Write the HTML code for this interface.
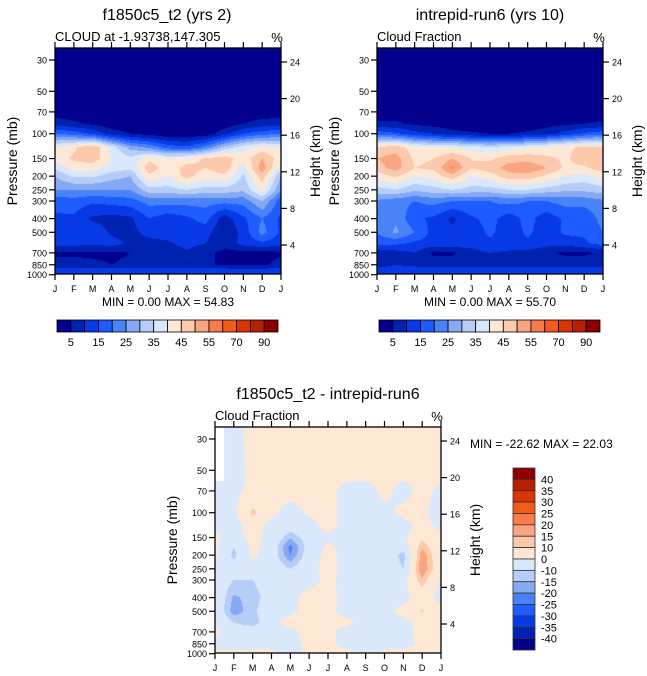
<!DOCTYPE html>
<html><head><meta charset="utf-8">
<style>
body{margin:0;background:#fff;}
#wrap{position:relative;width:647px;height:676px;overflow:hidden;background:#fff;font-family:"Liberation Sans",sans-serif;}
canvas{position:absolute;}
svg{position:absolute;left:0;top:0;}
</style></head>
<body>
<div id="wrap">
<canvas id="c1" width="226" height="226" style="left:55px;top:48px"></canvas>
<canvas id="c2" width="226" height="226" style="left:377px;top:48px"></canvas>
<canvas id="c3" width="226" height="226" style="left:215px;top:427px"></canvas>
<svg id="ov" width="647" height="676"></svg>
</div>
<script>
const months=['J','F','M','A','M','J','J','A','S','O','N','D','J'];
const pTicks=[30,50,70,100,150,200,250,300,400,500,700,850,1000];
const hTicks=[4,8,12,16,20,24];
const absLevels=[5,10,15,20,25,30,35,40,45,50,55,60,70,80,90];
const absLabels=[5,15,25,35,45,55,70,90];
const difLevels=[-40,-35,-30,-25,-20,-15,-10,0,10,15,20,25,30,35,40];
const difLabels=[40,35,30,25,20,15,10,0,-10,-15,-20,-25,-30,-35,-40];
const colors=['#03008d','#0022b0','#0839e6','#1e5cff','#4a82f7','#86a9f5','#b6cdf8','#d9e8fb','#fde8d6','#fcc9ad','#f9a57f','#f97b4b','#f55a1d','#db3506','#b82003','#8c0000'];
const P12=[25,30,50,70,85,100,125,150,175,200,250,300,400,500,600,700,850,925,1000];
const cloudModel=[
[1,1,1,1,1,1,1,1,1,1,1,1,1],
[1,1,1,1,1,1,1,1,1,1,1,1,1],
[1,1,1,1,1,1,1,1,1,1,1,1,1],
[2,2,2,1,1,1,1,1,1,1,2,2,2],
[8,6,4,2,1,1,1,1,1,2,5,7,8],
[20,18,14,8,5,3,1,1,2,8,15,18,20],
[40,44,50,38,28,24,18,16,22,32,38,42,40],
[42,46,48,40,36,44,40,42,46,48,42,50,42],
[36,42,42,38,36,48,42,47,45,48,38,53,38],
[30,36,36,32,30,44,40,47,42,44,34,48,30],
[25,25,25,25,25,33,33,35,33,33,31,42,25],
[17,18,16,17,18,22,22,22,22,22,22,30,17],
[14,14,9,8,9,15,12,14,17,7,14,20,14],
[14,12,14,9,8,12,13,13,12,5,12,22,14],
[12,12,11,12,9,8,9,12,10,6,12,14,12],
[4,4,4,4,5,8,7,9,6,4,3,3,4],
[7,7,6,5,6,6,5,5,5,5,4,4,7],
[12,12,12,12,12,12,12,12,12,12,12,12,12],
[10,10,10,10,10,10,10,10,10,10,10,10,10]];
const cloudObs=[
[1,1,1,1,1,1,1,1,1,1,1,1,1],
[1,1,1,1,1,1,1,1,1,1,1,1,1],
[1,1,1,1,1,1,1,1,1,1,1,1,1],
[2,2,1,1,1,1,1,1,1,1,1,2,2],
[6,6,4,3,2,1,1,2,2,3,4,5,6],
[18,16,12,10,7,6,5,5,6,8,12,16,18],
[46,48,42,40,40,38,36,38,40,42,44,46,46],
[50,52,44,45,50,45,44,48,48,46,44,48,50],
[48,52,45,46,56,45,48,52,54,50,44,44,48],
[42,46,40,42,48,40,42,48,48,44,40,38,42],
[33,35,31,33,35,33,33,35,35,33,31,31,33],
[24,22,20,22,20,20,20,22,20,20,22,22,24],
[22,24,16,14,9,14,17,12,17,12,16,16,22],
[20,26,20,13,11,12,16,12,16,12,16,16,20],
[17,16,14,13,14,12,14,13,14,12,12,14,17],
[6,8,10,4,4,8,10,9,8,6,4,4,6],
[8,10,9,8,8,8,8,8,8,8,8,8,8],
[12,12,12,12,12,12,12,12,12,12,12,12,12],
[10,10,10,10,10,10,10,10,10,10,10,10,10]];
const P3=[25,30,50,70,100,125,150,175,200,250,300,400,500,600,700,850,1000];
const cloudDiff=[
[null,-3,3,3,3,3,3,3,3,3,3,3,3],
[null,-3,3,3,3,3,3,3,3,3,3,3,3],
[null,-3,2,3,3,3,2,3,3,3,3,3,2],
[-3,-2,2,3,3,3,2,-2,-3,2,-3,3,-2],
[-6,-2,12,2,-3,1,3,-3,-3,-2,2,3,-6],
[-2,-3,4,-3,-6,-3,3,-3,-3,-3,-3,3,-2],
[2,-4,3,-3,-14,-6,-2,-4,-3,-3,-2,8,2],
[2,-10,2,-4,-22,-6,2,-3,-3,-3,-5,14,2],
[2,-12,2,-5,-20,-5,3,-3,-3,-3,-13,19,2],
[-3,-6,-3,-4,-10,-3,3,-3,-3,-3,-10,20,3],
[-4,-10,-10,-5,-3,-3,2,-3,-3,-3,-3,14,-2],
[-3,-16,-13,-6,-2,3,3,-3,-3,-3,-3,4,-3],
[-3,-18,-12,-3,-2,3,2,-3,-3,-3,3,11,2],
[-2,-10,-14,-2,3,2,2,2,-3,-3,-3,3,2],
[2,-4,-3,-3,-2,3,2,-3,-3,-3,-3,3,2],
[-3,-3,-3,-2,-3,2,2,-3,-3,-3,-3,2,2],
[2,2,2,2,-3,2,2,3,-3,2,3,3,2]];

const W=226,H=226;
function xM(m){return m*W/12;}
function yP(p){return 12+(Math.log10(p)-Math.log10(30))*141;}
function yH(z){return 14+(24-z)*9.15;}
function pAt(py){return Math.pow(10,Math.log10(30)+(py-12)/141);}
function hex(c){return [parseInt(c.substr(1,2),16),parseInt(c.substr(3,2),16),parseInt(c.substr(5,2),16)];}
const rgb=colors.map(hex);
function levIdx(v,levels){let i=0;while(i<levels.length&&v>=levels[i])i++;return i;}

function drawField(id,P,data,levels){
  const cv=document.getElementById(id),ctx=cv.getContext('2d');
  const img=ctx.createImageData(W,H);
  const lp=P.map(Math.log10);
  for(let py=0;py<H;py++){
    const l=Math.log10(pAt(py+0.5));
    let k=0;while(k<lp.length-2&&l>lp[k+1])k++;
    let t=(l-lp[k])/(lp[k+1]-lp[k]);t=Math.max(0,Math.min(1,t));
    for(let px=0;px<W;px++){
      const m=(px+0.5)/W*12;let j=Math.min(11,Math.floor(m));const s=m-j;
      const a=data[k][j],b=data[k][j+1],c=data[k+1][j],d=data[k+1][j+1];
      let v,o=(py*W+px)*4;
      if(a===null||b===null||c===null||d===null){
        const near=[[a,(1-s)*(1-t)],[b,s*(1-t)],[c,(1-s)*t],[d,s*t]].sort((x,y)=>y[1]-x[1])[0][0];
        if(near===null){img.data[o]=255;img.data[o+1]=255;img.data[o+2]=255;img.data[o+3]=255;continue;}
        v=near;
      } else v=a*(1-s)*(1-t)+b*s*(1-t)+c*(1-s)*t+d*s*t;
      const col=rgb[levIdx(v,levels)];
      img.data[o]=col[0];img.data[o+1]=col[1];img.data[o+2]=col[2];img.data[o+3]=255;
    }
  }
  ctx.putImageData(img,0,0);
}
drawField('c1',P12,cloudModel,absLevels);
drawField('c2',P12,cloudObs,absLevels);
drawField('c3',P3,cloudDiff,difLevels);

const NS='http://www.w3.org/2000/svg',ov=document.getElementById('ov');
function el(tag,attrs,txt){const e=document.createElementNS(NS,tag);for(const k in attrs)e.setAttribute(k,attrs[k]);if(txt!==undefined)e.textContent=txt;ov.appendChild(e);return e;}

function axes(x0,y0,title,sub,minmax,tx,name){
  let e=el('text',{x:tx,y:y0-28,'font-size':16,'text-anchor':'middle'},title);
  
  
  e=el('text',{x:x0,y:y0-7,'font-size':13},sub);
  
  
  e=el('text',{x:x0+W-4,y:y0-6,'font-size':13,'text-anchor':'middle'},'%');
  
  
  e=el('rect',{x:x0,y:y0,width:W,height:H,fill:'none',stroke:'#000','stroke-width':1.3});
  
  
  months.forEach((mm,i)=>{
    const x=x0+xM(i);
    el('line',{x1:x,x2:x,y1:y0+H,y2:y0+H+6,stroke:'#000','stroke-width':1.2});
    el('line',{x1:x,x2:x,y1:y0,y2:y0-6,stroke:'#000','stroke-width':1.2});
    const t=el('text',{x:x,y:y0+H+18,'font-size':9,'text-anchor':'middle'},mm);
    
    
  });
  pTicks.forEach(p=>{
    const y=y0+yP(p);
    el('line',{x1:x0-6,x2:x0,y1:y,y2:y,stroke:'#000','stroke-width':1.2});
    const t=el('text',{x:x0-8,y:y+3.5,'font-size':9,'text-anchor':'end'},p);
    
    
  });
  hTicks.forEach(z=>{
    const y=y0+yH(z);
    el('line',{x1:x0+W,x2:x0+W+6,y1:y,y2:y,stroke:'#000','stroke-width':1.2});
    const t=el('text',{x:x0+W+9,y:y+3.5,'font-size':9},z);
    
    
  });
  e=el('text',{transform:`translate(${x0-38},${y0+113}) rotate(-90)`,'font-size':14,'text-anchor':'middle'},'Pressure (mb)');
  
  
  e=el('text',{transform:`translate(${x0+W+39},${y0+113}) rotate(-90)`,'font-size':14,'text-anchor':'middle'},'Height (km)');
  
  
  if(minmax){
    e=el('text',{x:x0+W/2,y:y0+H+32,'font-size':12,'text-anchor':'middle','xml:space':'preserve'},minmax);
    
    
  }
}
axes(55,48,'f1850c5_t2 (yrs 2)','CLOUD at -1.93738,147.305','MIN =   0.00 MAX =  54.83',167,'model');
axes(377,48,'intrepid-run6 (yrs 10)','Cloud Fraction','MIN =   0.00 MAX =  55.70',490,'obs');
axes(215,427,'f1850c5_t2 - intrepid-run6','Cloud Fraction',null,328,'diff');
let mm=el('text',{x:470,y:448,'font-size':12,'xml:space':'preserve'},'MIN = -22.62 MAX =  22.03');



function hbar(x0,name){
  const bw=(278-57)/16;
  colors.forEach((c,i)=>{
    const r=el('rect',{x:x0+i*bw,y:320,width:bw,height:12,fill:c,stroke:'#000','stroke-width':0.8});
    
    
  });
  absLevels.forEach((lv,i)=>{
    if(absLabels.indexOf(lv)<0)return;
    const t=el('text',{x:x0+(i+1)*bw,y:346,'font-size':11,'text-anchor':'middle'},lv);
    
    
  });
}
hbar(57,'model');hbar(379,'obs');
const vh=(650-468)/16;
colors.slice().reverse().forEach((c,i)=>{
  const r=el('rect',{x:513,y:468+i*vh,width:22,height:vh,fill:c,stroke:'#333','stroke-width':0.8});
  
  
});
difLabels.forEach((lv,i)=>{
  const t=el('text',{x:541,y:468+(i+1)*vh+4,'font-size':11},lv);
  
  
});
</script>
</body></html>
